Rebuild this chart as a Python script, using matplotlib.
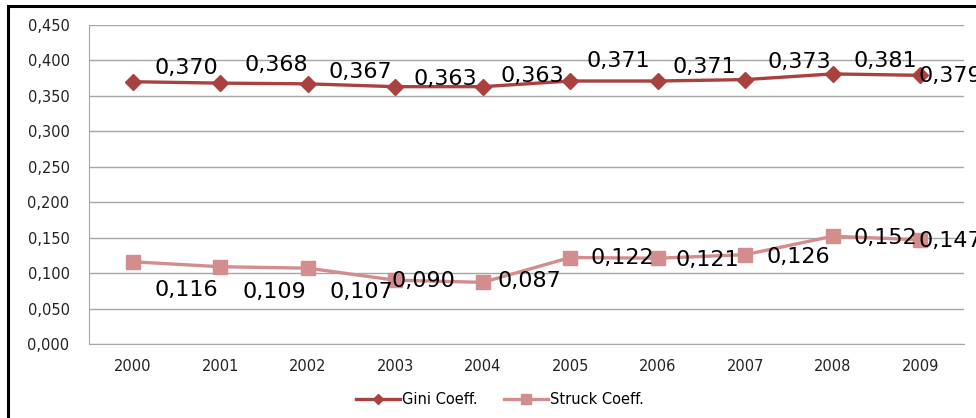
import matplotlib
matplotlib.use('Agg')
import matplotlib.pyplot as plt
from matplotlib.patches import Rectangle
import numpy as np

# Dados
anos = ['2000', '2001', '2002', '2003', '2004', '2005', '2006', '2007', '2008', '2009']
gini = [0.370, 0.368, 0.367, 0.363, 0.363, 0.371, 0.371, 0.373, 0.381, 0.379]
struck = [0.116, 0.109, 0.107, 0.090, 0.087, 0.122, 0.121, 0.126, 0.152, 0.147]

# deslocamentos dos rotulos (pixels)
desl_gini = [(54, 14), (56, 18), (53, 12), (50, 8), (50, 11), (48, 20), (47, 14), (54, 18), (53, 13), (30, -1)]
desl_struck = [(54, -28), (54, -25), (54, -24), (28, -1), (47, 1), (52, 0), (50, -2), (53, -2), (53, -2), (30, -1)]

cor_gini = '#A9423F'
cor_struck = '#D38D8C'


def fmt(v):
    return ('%.3f' % v).replace('.', ',')


fig = plt.figure(figsize=(9.76, 4.18), dpi=100)
fig.patches.append(Rectangle((0.0085, -0.1), 1.2, 1.086, transform=fig.transFigure,
                             fill=False, edgecolor='black', linewidth=2.2))
ax = fig.add_axes([89 / 976, 1 - 344 / 418, 875 / 976, 319 / 418])

x = np.arange(len(anos))
ax.plot(x, gini, color=cor_gini, linewidth=2.4, marker='D', markersize=8, label='Gini Coeff.')
ax.plot(x, struck, color=cor_struck, linewidth=2.4, marker='s', markersize=10, label='Struck Coeff.')

for i in range(len(x)):
    ax.annotate(fmt(gini[i]), (x[i], gini[i]), xytext=desl_gini[i], textcoords='offset pixels',
                ha='center', va='center', fontsize=16, color='black')
    ax.annotate(fmt(struck[i]), (x[i], struck[i]), xytext=desl_struck[i], textcoords='offset pixels',
                ha='center', va='center', fontsize=16, color='black')

ax.set_xlim(-0.5, len(anos) - 0.5)
ax.set_ylim(0, 0.45)
yt = np.arange(0, 0.451, 0.05)
ax.set_yticks(yt)
ax.set_yticklabels([fmt(v) for v in yt])
ax.set_xticks(x)
ax.set_xticklabels(anos)
ax.tick_params(axis='both', length=0, labelsize=10.5, colors='#222222')
ax.tick_params(axis='y', pad=14)
ax.tick_params(axis='x', pad=11)
ax.grid(axis='y', color='#A6A6A6', linewidth=1)
ax.set_axisbelow(True)
for lado in ['top', 'right']:
    ax.spines[lado].set_visible(False)
for lado in ['left', 'bottom']:
    ax.spines[lado].set_color('#A6A6A6')

leg = fig.legend(loc='center', bbox_to_anchor=(500 / 976, 1 - 400 / 418), ncol=2, frameon=False,
                 fontsize=10.5, handlelength=3.0, columnspacing=1.8, handletextpad=0.15, markerscale=0.7)

plt.savefig('out.png', dpi=100)
